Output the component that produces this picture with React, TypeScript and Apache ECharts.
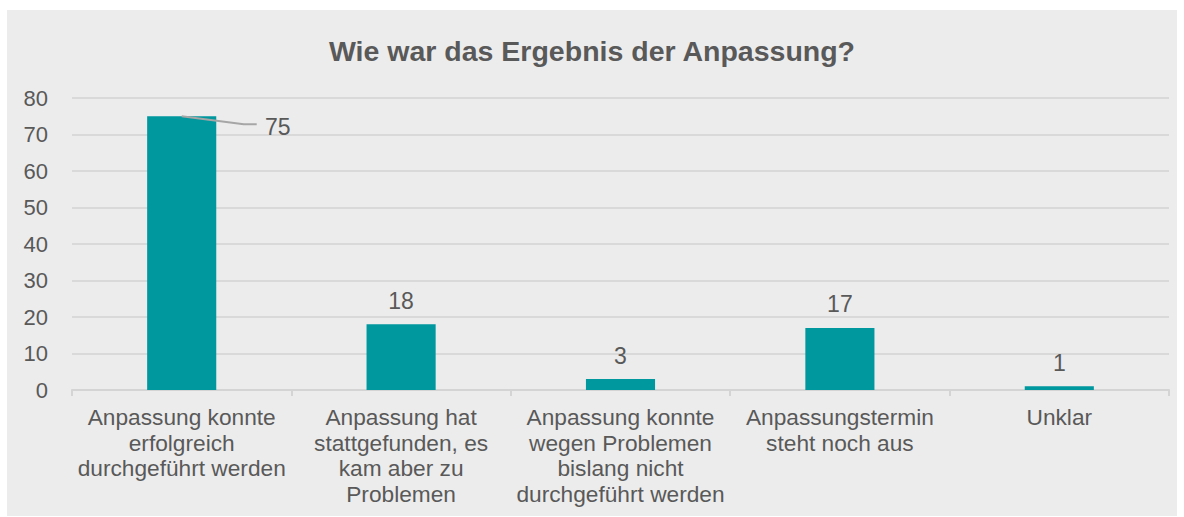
import React, { useEffect, useRef } from "react";
import * as echarts from "echarts";

const titleText = "Wie war das Ergebnis der Anpassung?";
const categories = [
  "Anpassung konnte\nerfolgreich\ndurchgeführt werden",
  "Anpassung hat\nstattgefunden, es\nkam aber zu\nProblemen",
  "Anpassung konnte\nwegen Problemen\nbislang nicht\ndurchgeführt werden",
  "Anpassungstermin\nsteht noch aus",
  "Unklar",
];
const values = [75, 18, 3, 17, 1];

export default function App() {
  const ref = useRef<HTMLDivElement>(null);
  useEffect(() => {
    if (!ref.current) return;
    const chart = echarts.init(ref.current, null, { renderer: "svg" });
    const font = "'Liberation Sans', Arial, sans-serif";
    chart.setOption({
      animation: false,
      backgroundColor: "#ffffff",
      title: {
        text: titleText,
        left: "center",
        top: 31,
        textStyle: { fontFamily: font, fontSize: 28.5, fontWeight: "bold", color: "#595959" },
      },
      grid: { left: 72, right: 15, top: 98, bottom: 127, containLabel: false },
      xAxis: {
        type: "category",
        data: categories,
        axisLine: { show: true, lineStyle: { color: "#d4d4d4", width: 2 } },
        axisTick: { show: true, length: 6, alignWithLabel: false, lineStyle: { color: "#d4d4d4", width: 2 } },
        axisLabel: {
          fontFamily: font,
          fontSize: 22.7,
          color: "#595959",
          lineHeight: 25.7,
          margin: 14,
          interval: 0,
        },
      },
      yAxis: {
        type: "value",
        min: 0,
        max: 80,
        interval: 10,
        axisLine: { show: false },
        axisTick: { show: false },
        splitLine: { lineStyle: { color: "#d9d9d9", width: 2 } },
        axisLabel: { fontFamily: font, fontSize: 22, color: "#595959", margin: 24 },
      },
      series: [
        {
          type: "bar",
          data: values,
          barWidth: "31.5%",
          itemStyle: { color: "#00989f" },
          label: {
            show: true,
            position: "top",
            distance: 12,
            fontFamily: font,
            fontSize: 23,
            color: "#595959",
          },
          labelLayout: (params: any) =>
            params.dataIndex === 0 ? { dx: 96, dy: 34 } : {},
        },
      ],
    });
    const p = chart.convertToPixel({ seriesIndex: 0 }, [0, values[0]]) as number[];
    chart.setOption({
      graphic: [
        {
          type: "rect",
          shape: { x: 7, y: 10, width: 1170, height: 506 },
          style: { fill: "#ececec" },
          z: -10,
          silent: true,
        },
        {
          type: "polyline",
          shape: { points: [[p[0], p[1]], [p[0] + 62, p[1] + 8], [p[0] + 75, p[1] + 8]] },
          style: { stroke: "#a6a6a6", lineWidth: 2, fill: "none" },
          z: 10,
        },
      ],
    });
    return () => chart.dispose();
  }, []);
  return (
    <div
      ref={ref}
      style={{ position: "fixed", left: 0, top: 0, width: 1184, height: 517 }}
    />
  );
}
